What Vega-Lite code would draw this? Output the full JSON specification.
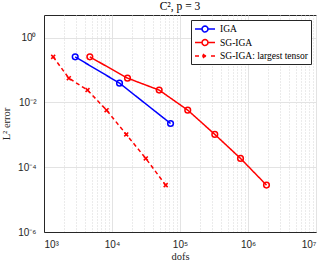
{
  "$schema": "https://vega.github.io/schema/vega-lite/v6.json",
  "width": 272,
  "height": 217,
  "autosize": "none",
  "padding": {"left": 44, "top": 15, "right": 8, "bottom": 29},
  "background": "white",
  "title": {"text": "C², p = 3", "font": "Liberation Serif", "fontSize": 11.5, "fontWeight": "normal", "color": "black", "offset": 3},
  "config": {
    "view": {"stroke": "#262626", "strokeWidth": 1},
    "axis": {"labelFont": "Liberation Sans", "labelFontSize": 10, "labelColor": "#262626", "titleFont": "Liberation Serif", "titleFontSize": 10.5, "titleFontWeight": "normal", "titleColor": "#262626", "domainColor": "#262626", "ticks": false}
  },
  "data": {"values": [
    {"series": "IGA", "dofs": 2876, "err": 0.255},
    {"series": "IGA", "dofs": 12900, "err": 0.0394},
    {"series": "IGA", "dofs": 72600, "err": 0.00224},
    {"series": "SG-IGA", "dofs": 4720, "err": 0.255},
    {"series": "SG-IGA", "dofs": 16900, "err": 0.0562},
    {"series": "SG-IGA", "dofs": 49400, "err": 0.024},
    {"series": "SG-IGA", "dofs": 130000, "err": 0.00578},
    {"series": "SG-IGA", "dofs": 325000, "err": 0.00103},
    {"series": "SG-IGA", "dofs": 776000, "err": 0.000187},
    {"series": "SG-IGA", "dofs": 1870000, "err": 0.000028},
    {"series": "SG-IGA: largest tensor", "dofs": 1365, "err": 0.255},
    {"series": "SG-IGA: largest tensor", "dofs": 2317, "err": 0.0562},
    {"series": "SG-IGA: largest tensor", "dofs": 4365, "err": 0.024},
    {"series": "SG-IGA: largest tensor", "dofs": 8320, "err": 0.00578},
    {"series": "SG-IGA: largest tensor", "dofs": 16200, "err": 0.00103},
    {"series": "SG-IGA: largest tensor", "dofs": 31400, "err": 0.000187},
    {"series": "SG-IGA: largest tensor", "dofs": 61600, "err": 0.000028}
  ]},
  "encoding": {
    "x": {"field": "dofs", "type": "quantitative",
      "scale": {"type": "log", "domain": [1000, 10000000], "nice": false},
      "axis": {"title": "dofs", "titlePadding": 2, "labelPadding": 7,
        "values": [1000,2000,3000,4000,5000,6000,7000,8000,9000,10000,20000,30000,40000,50000,60000,70000,80000,90000,100000,200000,300000,400000,500000,600000,700000,800000,900000,1000000,2000000,3000000,4000000,5000000,6000000,7000000,8000000,9000000,10000000],
        "labelExpr": "datum.value == 1000 ? '10³' : datum.value == 10000 ? '10⁴' : datum.value == 100000 ? '10⁵' : datum.value == 1000000 ? '10⁶' : datum.value == 10000000 ? '10⁷' : ''",
        "gridColor": {"condition": {"test": "datum.value == 1000 || datum.value == 10000 || datum.value == 100000 || datum.value == 1000000 || datum.value == 10000000", "value": "#e3e3e3"}, "value": "#d6d6d6"},
        "gridDash": {"condition": {"test": "datum.value == 1000 || datum.value == 10000 || datum.value == 100000 || datum.value == 1000000 || datum.value == 10000000", "value": []}, "value": [1, 2]}
      }
    },
    "y": {"field": "err", "type": "quantitative",
      "scale": {"type": "log", "domain": [0.000001, 5], "nice": false},
      "axis": {"title": "L² error", "titlePadding": 6, "labelPadding": 8,
        "values": [0.000001, 0.0001, 0.01, 1],
        "labelExpr": "datum.value == 1 ? '10⁰' : datum.value == 0.01 ? '10⁻²' : datum.value == 0.0001 ? '10⁻⁴' : '10⁻⁶'",
        "gridColor": "#e3e3e3"
      }
    },
    "color": {"field": "series", "type": "nominal",
      "scale": {"domain": ["IGA", "SG-IGA", "SG-IGA: largest tensor"], "range": ["#0000ff", "#ff0000", "#ff0000"]},
      "legend": {"title": null, "orient": "top-right", "offset": 5, "symbolSize": 100, "symbolStrokeWidth": 1.5, "symbolOpacity": 1, "symbolFillColor": "transparent",
        "labelFont": "Liberation Serif", "labelFontSize": 9.5, "labelColor": "black",
        "strokeColor": "#262626", "fillColor": "white", "padding": 3, "rowPadding": 1.5, "symbolOffset": 0, "labelOffset": 14}
    }
  },
  "layer": [
    {
      "mark": {"type": "line", "strokeWidth": 1.5},
      "encoding": {
        "order": {"field": "dofs", "type": "quantitative"},
        "strokeDash": {"field": "series", "type": "nominal", "legend": null,
          "scale": {"domain": ["IGA", "SG-IGA", "SG-IGA: largest tensor"], "range": [[1, 0], [1, 0], [4, 3]]}}
      }
    },
    {
      "transform": [{"filter": "datum.series !== 'SG-IGA: largest tensor'"}],
      "mark": {"type": "point", "filled": false, "strokeWidth": 1.5, "size": 32, "opacity": 1, "shape": "circle"}
    },
    {
      "transform": [{"filter": "datum.series === 'SG-IGA: largest tensor'"}],
      "mark": {"type": "point", "filled": false, "strokeWidth": 1.5, "size": 32, "opacity": 1, "shape": "M-0.7,-0.7L0.7,0.7M-0.7,0.7L0.7,-0.7"}
    },
    {
      "mark": {"type": "point", "filled": false, "strokeWidth": 1.5, "size": 100, "opacity": 0},
      "encoding": {
        "shape": {"field": "series", "type": "nominal",
          "scale": {"domain": ["IGA", "SG-IGA", "SG-IGA: largest tensor"], "range": [
            "M-1,0H0.4M1.6,0H3M1.6,0L1.52,0.3L1.3,0.52L1,0.6L0.7,0.52L0.48,0.3L0.4,0L0.48,-0.3L0.7,-0.52L1,-0.6L1.3,-0.52L1.52,-0.3Z",
            "M-1,0H0.4M1.6,0H3M1.6,0L1.52,0.3L1.3,0.52L1,0.6L0.7,0.52L0.48,0.3L0.4,0L0.48,-0.3L0.7,-0.52L1,-0.6L1.3,-0.52L1.52,-0.3Z",
            "M-1,0H-0.2M0.4,0H1.6M2.2,0H3M0.6,-0.4L1.4,0.4M0.6,0.4L1.4,-0.4"]},
          "legend": {"title": null, "orient": "top-right", "offset": 5, "symbolSize": 100, "symbolStrokeWidth": 1.5, "symbolOpacity": 1, "symbolFillColor": "transparent",
            "labelFont": "Liberation Serif", "labelFontSize": 9.5, "labelColor": "black",
            "strokeColor": "#262626", "fillColor": "white", "padding": 3, "rowPadding": 1.5, "symbolOffset": 0, "labelOffset": 14}
        }
      }
    }
  ]
}
